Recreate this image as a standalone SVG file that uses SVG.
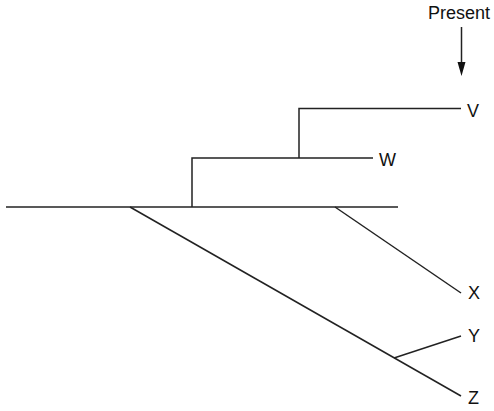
<svg xmlns="http://www.w3.org/2000/svg" width="494" height="411" viewBox="0 0 494 411">
<defs>
<style>
.l{stroke:#222;stroke-width:1.5;fill:none}
.t{font-family:"Liberation Sans",Arial,sans-serif;font-size:18px;fill:#111}
</style>
</defs>
<rect width="494" height="411" fill="#fff"/>
<g id="connectors">
<line class="l" x1="6" y1="207" x2="398" y2="207"/>
<line class="l" x1="130" y1="207" x2="461" y2="396"/>
<line class="l" x1="335" y1="207" x2="461" y2="293"/>
<line class="l" x1="394" y1="358" x2="461" y2="336"/>
<polyline class="l" points="192,207 192,158 373,158"/>
<polyline class="l" points="299,158 299,108.5 461,108.5"/>
<line class="l" x1="461.5" y1="27" x2="461.5" y2="62"/>
<path d="M457.5,62 L465.5,62 L461.5,76 Z" fill="#111"/>
</g>
<g id="present"><text class="t" x="459" y="19" text-anchor="middle">Present</text></g>
<g id="V"><text class="t" x="467" y="116.5">V</text></g>
<g id="W"><text class="t" x="379" y="166">W</text></g>
<g id="X"><text class="t" x="468" y="299">X</text></g>
<g id="Y"><text class="t" x="468" y="342">Y</text></g>
<g id="Z"><text class="t" x="468" y="404">Z</text></g>
</svg>
